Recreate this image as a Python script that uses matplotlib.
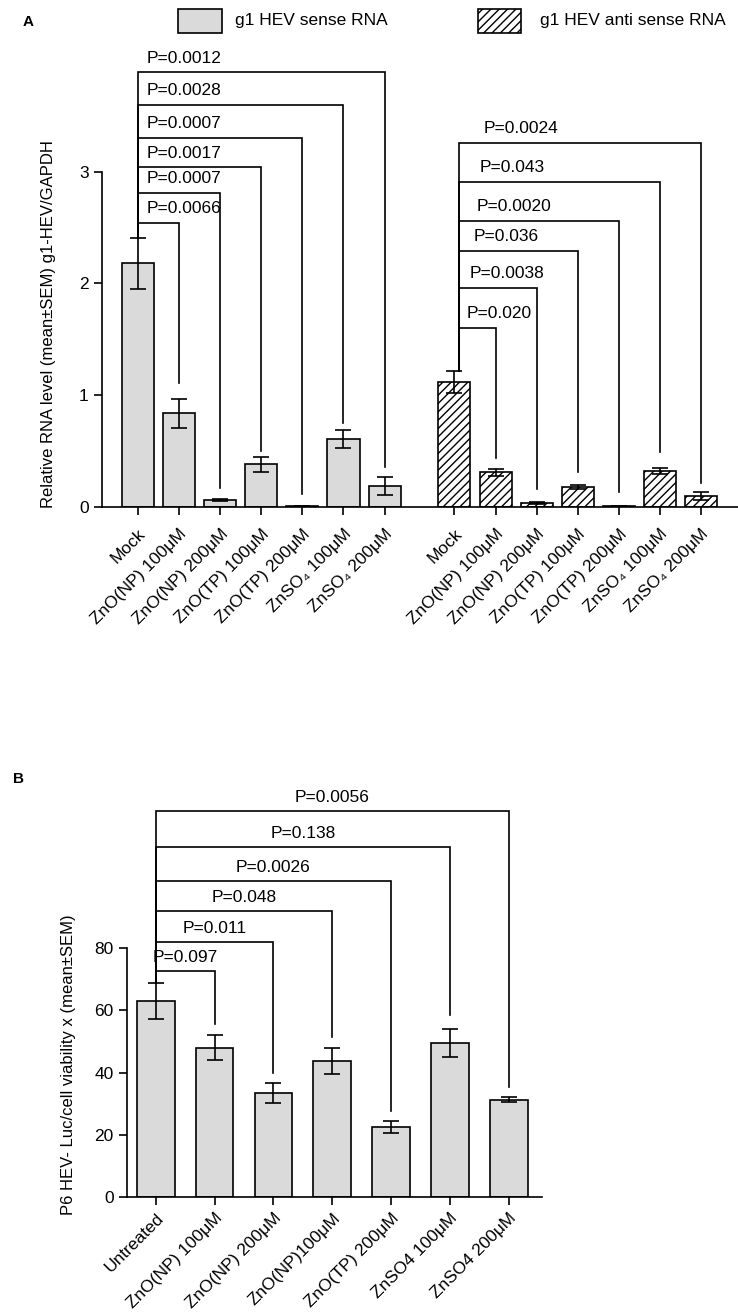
import numpy as np
import matplotlib.pyplot as plt
from matplotlib.patches import Rectangle

plt.rcParams['font.family'] = ['Liberation Sans', 'DejaVu Sans']
plt.rcParams['hatch.linewidth'] = 1.0

# ---------------- panel A data ----------------
a_labels = ["Mock", "ZnO(NP) 100μM", "ZnO(NP) 200μM", "ZnO(TP) 100μM",
            "ZnO(TP) 200μM", "ZnSO₄ 100μM", "ZnSO₄ 200μM"]
sense_mean = [2.18, 0.84, 0.06, 0.38, 0.005, 0.61, 0.19]
sense_sem = [0.23, 0.13, 0.01, 0.07, 0.0, 0.08, 0.08]
anti_mean = [1.12, 0.31, 0.035, 0.18, 0.005, 0.32, 0.10]
anti_sem = [0.10, 0.03, 0.01, 0.015, 0.0, 0.025, 0.035]

sense_p = ["P=0.0066", "P=0.0007", "P=0.0017", "P=0.0007", "P=0.0028", "P=0.0012"]
sense_p_height = [2.54, 2.81, 3.04, 3.30, 3.60, 3.89]
sense_p_end = [1.11, 0.17, 0.50, 0.12, 0.75, 0.36]
anti_p = ["P=0.020", "P=0.0038", "P=0.036", "P=0.0020", "P=0.043", "P=0.0024"]
anti_p_height = [1.60, 1.96, 2.29, 2.56, 2.91, 3.26]
anti_p_end = [0.44, 0.16, 0.31, 0.13, 0.49, 0.21]

# ---------------- panel B data ----------------
b_labels = ["Untreated", "ZnO(NP) 100μM", "ZnO(NP) 200μM", "ZnO(NP)100μM",
            "ZnO(TP) 200μM", "ZnSO4 100μM", "ZnSO4 200μM"]
luc_mean = [63.0, 48.0, 33.5, 43.7, 22.6, 49.4, 31.3]
luc_sem = [5.8, 4.0, 3.3, 4.3, 1.9, 4.5, 0.9]
luc_p = ["P=0.097", "P=0.011", "P=0.048", "P=0.0026", "P=0.138", "P=0.0056"]
luc_p_height = [72.6, 81.9, 91.9, 101.6, 112.6, 124.2]
luc_p_end = [55.5, 40.0, 51.6, 27.5, 58.4, 35.4]

GRAY = "#dadada"
LW = 1.2
FS = 12.5


def style_axis(ax, ymax_spine):
    for s in ["top", "right"]:
        ax.spines[s].set_visible(False)
    ax.spines["left"].set_bounds(0, ymax_spine)
    for s in ["left", "bottom"]:
        ax.spines[s].set_linewidth(LW)
    ax.tick_params(length=6, width=LW, labelsize=FS, direction="out")


def bracket(ax, x0, x1, y0, y_top, y1, label, text_x, ha):
    ax.plot([x0, x0, x1, x1], [y0, y_top, y_top, y1], color="black",
            lw=LW, clip_on=False, solid_joinstyle="miter")
    ax.text(text_x, y_top + 0.015 * ax.get_ylim()[1], label, ha=ha, va="bottom",
            fontsize=FS, clip_on=False)


fig = plt.figure(figsize=(7.38, 13.12), dpi=100)

# ================= A =================
ax1 = fig.add_axes([0.138, 0.6136, 0.862, 0.3407])
x_sense = np.arange(7)
x_anti = np.arange(7) + 7.7
ax1.set_xlim(-0.88, 14.6)
ax1.set_ylim(0, 4.0)

ax1.bar(x_sense, sense_mean, width=0.78, color=GRAY, edgecolor="black", lw=LW, zorder=2)
ax1.bar(x_anti, anti_mean, width=0.78, color="white", edgecolor="black", lw=LW,
        hatch="////", zorder=2)
ax1.errorbar(x_sense, sense_mean, yerr=sense_sem, fmt="none", ecolor="black",
             elinewidth=LW, capsize=6, capthick=LW, zorder=3)
ax1.errorbar(x_anti, anti_mean, yerr=anti_sem, fmt="none", ecolor="black",
             elinewidth=LW, capsize=6, capthick=LW, zorder=3)

style_axis(ax1, 3)
ax1.tick_params(axis="x", pad=8)
ax1.set_yticks([0, 1, 2, 3])
ax1.set_xticks(np.concatenate([x_sense, x_anti]))
ax1.set_xticklabels(a_labels + a_labels, rotation=45, ha="right",
                    rotation_mode="anchor", fontsize=FS)
ax1.set_ylabel("Relative RNA level (mean±SEM) g1-HEV/GAPDH", fontsize=12)
ax1.yaxis.set_label_coords(-0.072, 0.41)

start_s = sense_mean[0] + sense_sem[0]
for i, lab in enumerate(sense_p):
    bracket(ax1, x_sense[0], x_sense[i + 1], start_s, sense_p_height[i],
            sense_p_end[i], lab, x_sense[0] + 0.2, "left")
start_a = anti_mean[0] + anti_sem[0]
for i, lab in enumerate(anti_p):
    bracket(ax1, x_anti[0] + 0.1, x_anti[i + 1], start_a, anti_p_height[i],
            anti_p_end[i], lab, x_anti[0] + 0.3 + 0.08 * i, "left")

# legend
fig.add_artist(Rectangle((0.241, 0.9748), 0.0596, 0.0183, transform=fig.transFigure,
                         facecolor=GRAY, edgecolor="black", lw=LW))
fig.text(0.318, 0.984, "g1 HEV sense RNA", fontsize=FS, va="center")
fig.add_artist(Rectangle((0.648, 0.9748), 0.0583, 0.0183, transform=fig.transFigure,
                         facecolor="white", edgecolor="black", lw=LW, hatch="////"))
fig.text(0.732, 0.984, "g1 HEV anti sense RNA", fontsize=FS, va="center")
fig.text(0.03, 0.983, "A", fontsize=11, fontweight="bold", va="center")

# ================= B =================
ax2 = fig.add_axes([0.172, 0.0877, 0.562, 0.308])
xb = np.arange(7)
ax2.set_xlim(-0.49, 6.56)
ax2.set_ylim(0, 130)
ax2.bar(xb, luc_mean, width=0.64, color=GRAY, edgecolor="black", lw=LW, zorder=2)
ax2.errorbar(xb, luc_mean, yerr=luc_sem, fmt="none", ecolor="black",
             elinewidth=LW, capsize=6, capthick=LW, zorder=3)
style_axis(ax2, 80)
ax2.set_yticks([0, 20, 40, 60, 80])
ax2.set_xticks(xb)
ax2.set_xticklabels(b_labels, rotation=45, ha="right", rotation_mode="anchor",
                    fontsize=FS)
ax2.set_ylabel("P6 HEV- Luc/cell viability x (mean±SEM)", fontsize=12)
ax2.yaxis.set_label_coords(-0.122, 0.327)

start_b = luc_mean[0] + luc_sem[0]
for i, lab in enumerate(luc_p):
    bracket(ax2, xb[0], xb[i + 1], start_b, luc_p_height[i], luc_p_end[i],
            lab, (xb[0] + xb[i + 1]) / 2, "center")
fig.text(0.018, 0.406, "B", fontsize=11, fontweight="bold", va="center")

fig.savefig("out.png", dpi=100)
